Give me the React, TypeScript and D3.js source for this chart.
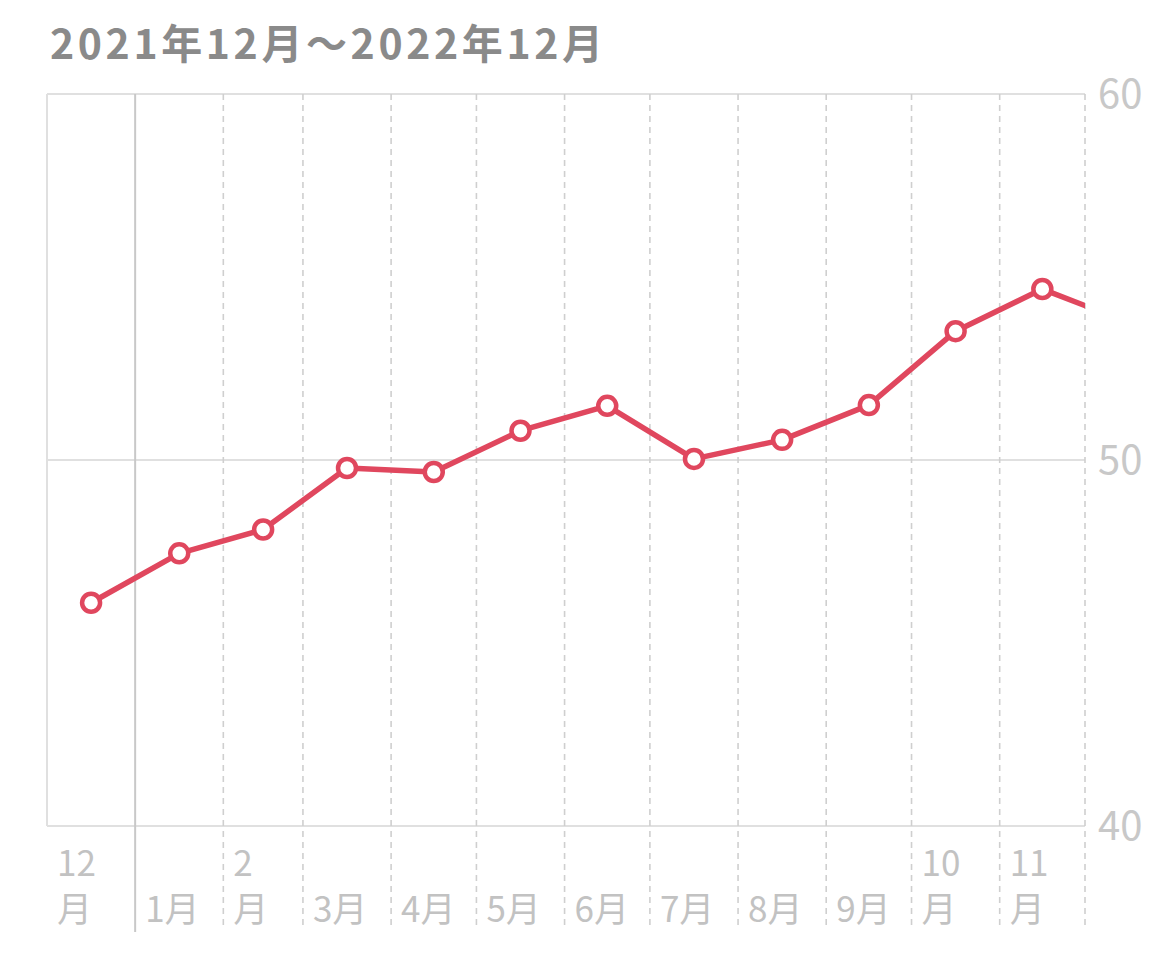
import React, { useEffect, useRef } from 'react';
import * as d3 from 'd3';

// monthly values, Dec 2021 .. Dec 2022 (year, month index)
const months: [number, number][] = [
	[2021, 11], [2022, 0], [2022, 1], [2022, 2], [2022, 3], [2022, 4], [2022, 5],
	[2022, 6], [2022, 7], [2022, 8], [2022, 9], [2022, 10], [2022, 11],
];
const values = [46.1, 47.45, 48.1, 49.78, 49.67, 50.8, 51.48, 50.03, 50.55, 51.5, 53.52, 54.67, 53.75];

// axis labels, one entry per month column (lines split where the column is narrow)
const monthLabels: string[][] = [
	['12', '月'], ['1月'], ['2', '月'], ['3月'], ['4月'], ['5月'], ['6月'],
	['7月'], ['8月'], ['9月'], ['10', '月'], ['11', '月'],
];
const yTicks = [40, 50, 60];
const title = '2021年12月〜2022年12月';

const W = 1170;
const H = 969;
const red = '#e0475e';
const font = "'Noto Sans CJK JP', 'Noto Sans', sans-serif";

const App: React.FC = () => {
	const svgRef = useRef<SVGSVGElement | null>(null);

	useEffect(() => {
		if (!svgRef.current) return;
		const svg = d3.select(svgRef.current);
		svg.selectAll('*').remove();

		const left = 47;
		const right = 1085;
		const top = 94;
		const bottom = 826;

		const x = d3
			.scaleUtc()
			.domain([new Date(Date.UTC(2021, 11, 1)), new Date(Date.UTC(2022, 11, 1))])
			.range([left, right]);
		const y = d3.scaleLinear().domain([40, 60]).range([bottom, top]);

		const monthStart = (m: [number, number]) => new Date(Date.UTC(m[0], m[1], 1));
		const monthMid = (m: [number, number]) => {
			const a = Date.UTC(m[0], m[1], 1);
			const b = Date.UTC(m[0], m[1] + 1, 1);
			return new Date((a + b) / 2);
		};

		// title
		svg
			.append('text')
			.attr('x', 50)
			.attr('y', 59)
			.attr('font-family', font)
			.attr('font-size', 41)
			.attr('font-weight', 'bold')
			.attr('fill', '#8a8a8a')
			.attr('textLength', 553)
			.attr('lengthAdjust', 'spacing')
			.text(title);

		// horizontal grid
		svg
			.append('g')
			.selectAll('line')
			.data(yTicks)
			.join('line')
			.attr('x1', left)
			.attr('x2', right)
			.attr('y1', (d) => y(d))
			.attr('y2', (d) => y(d))
			.attr('stroke', '#e0e0e0')
			.attr('stroke-width', 2);

		// left border
		svg
			.append('line')
			.attr('x1', left)
			.attr('x2', left)
			.attr('y1', top)
			.attr('y2', bottom)
			.attr('stroke', '#e0e0e0')
			.attr('stroke-width', 2);

		// vertical month boundaries
		const bounds = x.ticks(d3.utcMonth.every(1)!).filter((d) => +d > +x.domain()[0]);
		svg
			.append('g')
			.selectAll('line')
			.data(bounds)
			.join('line')
			.attr('x1', (d) => x(d))
			.attr('x2', (d) => x(d))
			.attr('y1', top)
			.attr('y2', (d) => (d.getUTCMonth() === 0 ? 932 : 928))
			.attr('stroke', (d) => (d.getUTCMonth() === 0 ? '#c8c8c8' : '#cfcfcf'))
			.attr('stroke-width', (d) => (d.getUTCMonth() === 0 ? 2 : 1.6))
			.attr('stroke-dasharray', (d) => (d.getUTCMonth() === 0 ? null : '6,5'));

		// month labels
		const labels = svg
			.append('g')
			.attr('font-family', font)
			.attr('font-size', 35)
			.attr('fill', '#c2c2c2')
			.selectAll('text')
			.data(monthLabels)
			.join('text')
			.attr('x', (_, i) => x(monthStart(months[i])) + 10);
		labels
			.selectAll('tspan')
			.data((d) => d.map((t, j) => ({ t, j, n: d.length })))
			.join('tspan')
			.attr('x', function () {
				return (this.parentNode as SVGTextElement).getAttribute('x');
			})
			.attr('y', (d) => (d.n === 2 && d.j === 0 ? 876 : 922))
			.text((d) => d.t);

		// y tick labels on right
		svg
			.append('g')
			.attr('font-family', font)
			.attr('font-size', 40)
			.attr('fill', '#c8c8c8')
			.selectAll('text')
			.data(yTicks)
			.join('text')
			.attr('x', 1098)
			.attr('y', (d) => y(d))
			.attr('dy', '0.36em')
			.text((d) => d);

		// clip for the plot area
		svg
			.append('clipPath')
			.attr('id', 'plotClip')
			.append('rect')
			.attr('x', 0)
			.attr('y', 0)
			.attr('width', right)
			.attr('height', H);

		const plot = svg.append('g').attr('clip-path', 'url(#plotClip)');
		const pts = values.map((v, i) => ({ d: monthMid(months[i]), v }));

		const line = d3
			.line<{ d: Date; v: number }>()
			.x((p) => x(p.d))
			.y((p) => y(p.v));

		plot
			.append('path')
			.attr('d', line(pts))
			.attr('fill', 'none')
			.attr('stroke', red)
			.attr('stroke-width', 5.5)
			.attr('stroke-linejoin', 'round');

		plot
			.selectAll('circle')
			.data(pts)
			.join('circle')
			.attr('cx', (p) => x(p.d))
			.attr('cy', (p) => y(p.v))
			.attr('r', 9)
			.attr('fill', '#fff')
			.attr('stroke', red)
			.attr('stroke-width', 4.5);
	}, []);

	return <svg ref={svgRef} width={W} height={H} style={{ display: 'block', margin: -8 }} />;
};

export default App;
